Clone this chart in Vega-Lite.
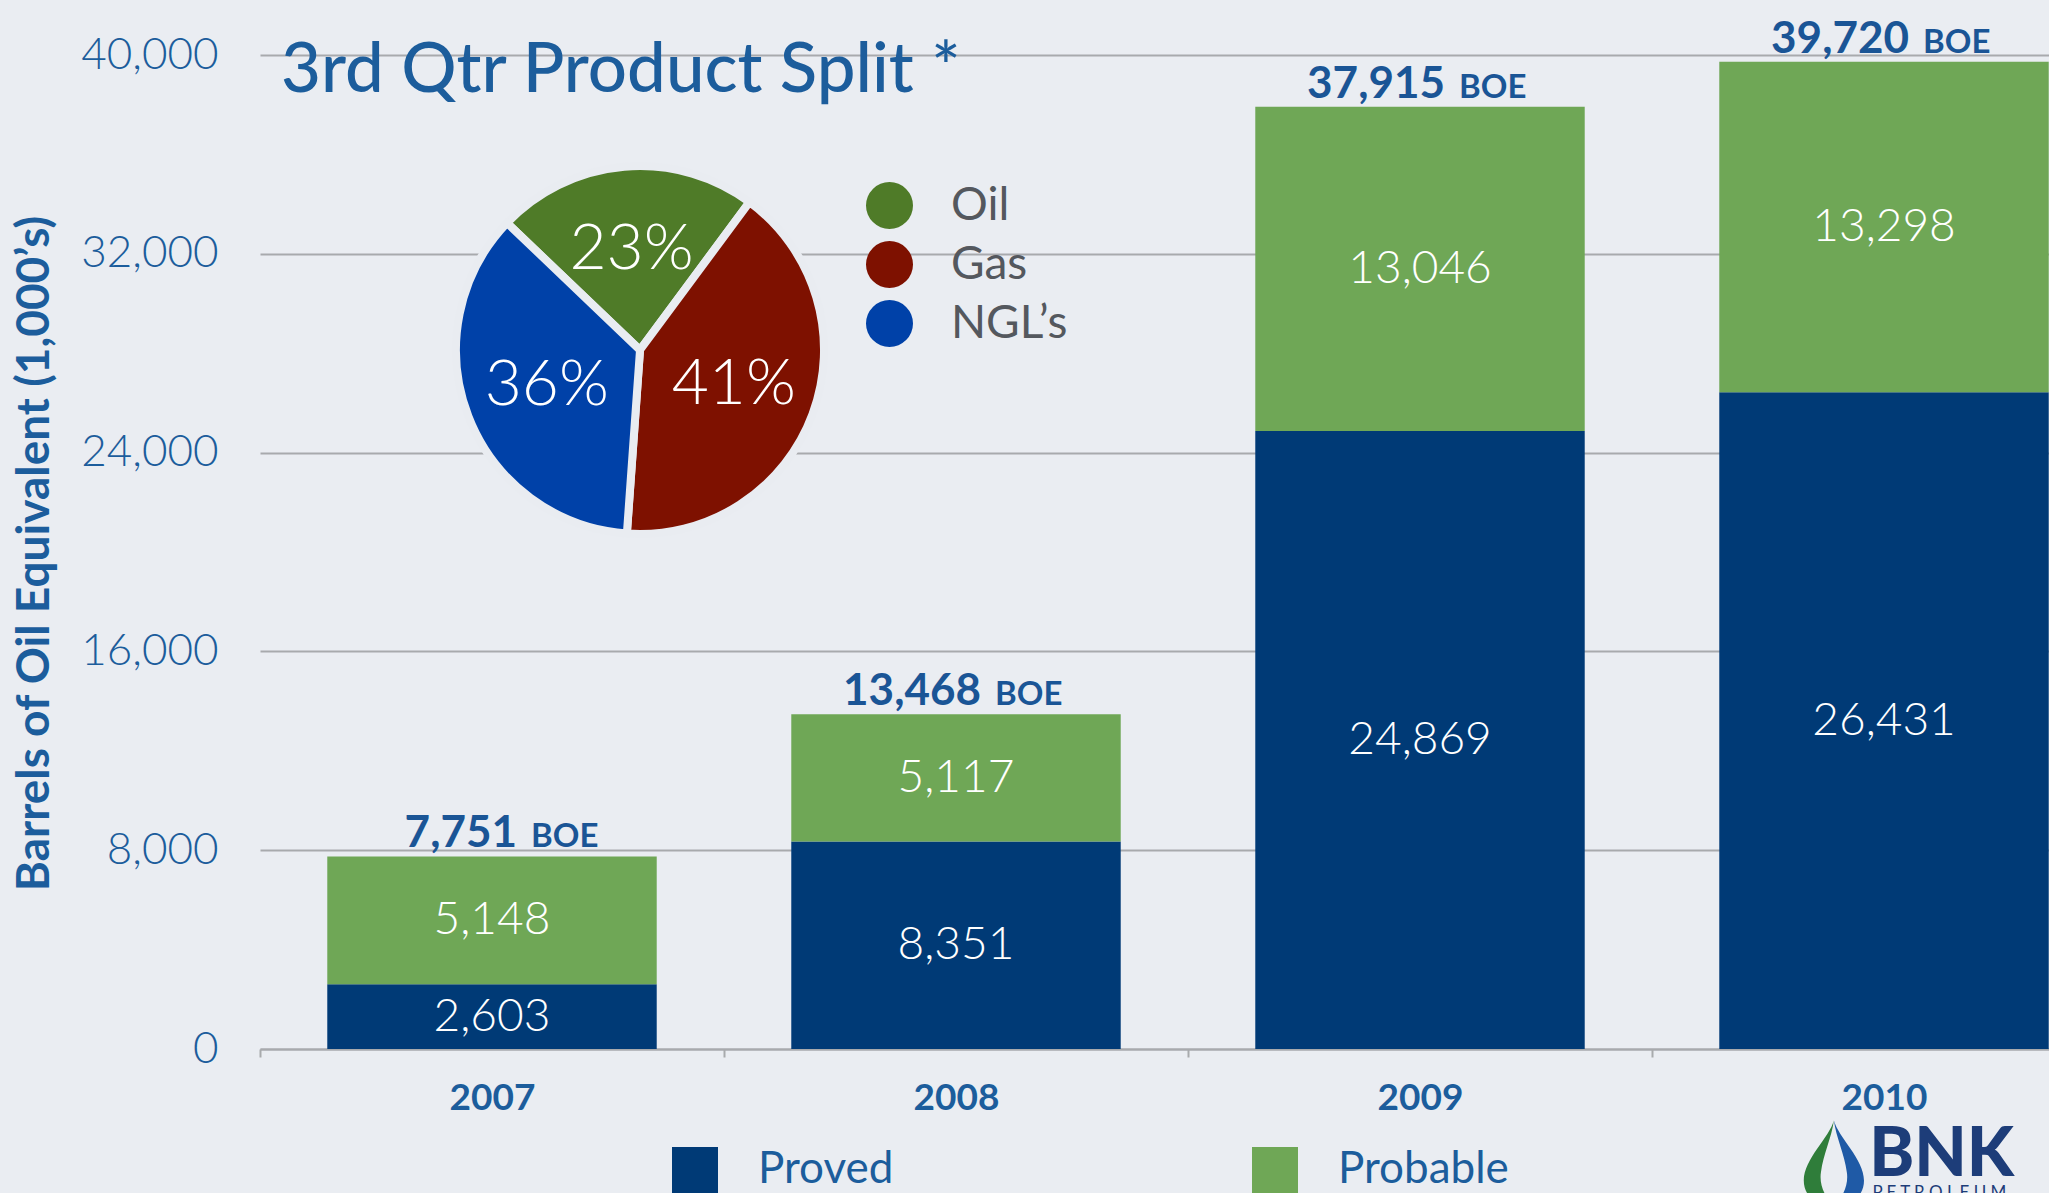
{
  "$schema": "https://vega.github.io/schema/vega-lite/v6.json",
  "width": 1789,
  "height": 994,
  "autosize": "none",
  "padding": {"left": 260, "top": 55, "right": 0, "bottom": 144},
  "background": "#eaedf2",
  "config": {
    "view": {"stroke": null},
    "font": "Lato",
    "text": {"font": "Lato"}
  },
  "title": {
    "text": "3rd Qtr Product Split *",
    "anchor": "start",
    "frame": "group",
    "orient": "top",
    "font": "Lato",
    "fontSize": 69,
    "fontWeight": 500,
    "color": "#1c5d9c",
    "baseline": "alphabetic",
    "offset": -143,
    "dx": 21
  },
  "datasets": {
    "reserves": [
      {"year": "2007", "series": "Proved", "value": 2603},
      {"year": "2007", "series": "Probable", "value": 5148},
      {"year": "2008", "series": "Proved", "value": 8351},
      {"year": "2008", "series": "Probable", "value": 5117},
      {"year": "2009", "series": "Proved", "value": 24869},
      {"year": "2009", "series": "Probable", "value": 13046},
      {"year": "2010", "series": "Proved", "value": 26431},
      {"year": "2010", "series": "Probable", "value": 13298}
    ],
    "totals": [
      {"year": "2007", "total": 7751},
      {"year": "2008", "total": 13468},
      {"year": "2009", "total": 37915},
      {"year": "2010", "total": 39720}
    ],
    "split": [
      {"product": "Oil", "share": 0.23},
      {"product": "Gas", "share": 0.41},
      {"product": "NGL’s", "share": 0.36}
    ],
    "logo": [
      {"brand": "BNK", "sub": "P E T R O L E U M"}
    ]
  },
  "layer": [
    {
      "data": {"name": "reserves"},
      "mark": {"type": "bar", "width": {"band": 0.71}},
      "encoding": {
        "x": {
          "field": "year", "type": "nominal", "title": null,
          "scale": {"range": [0, 1856], "paddingInner": 0, "paddingOuter": 0},
          "axis": {
            "tickBand": "extent",
            "labelAngle": 0,
            "labelFont": "Lato", "labelFontSize": 37, "labelFontWeight": "bold", "labelColor": "#1c5d9c",
            "labelBaseline": "alphabetic", "labelPadding": 52,
            "domainColor": "#a8aaad", "domainWidth": 2,
            "tickColor": "#a8aaad", "tickWidth": 2, "tickSize": 8,
            "grid": false
          }
        },
        "y": {
          "field": "value", "type": "quantitative", "stack": "zero",
          "scale": {"domain": [0, 40000], "nice": false},
          "axis": {
            "values": [0, 8000, 16000, 24000, 32000, 40000],
            "format": ",d",
            "title": "Barrels  of Oil Equivalent (1,000’s)",
            "titleFont": "Lato", "titleFontSize": 46, "titleFontWeight": "bold", "titleColor": "#1c5d9c",
            "titleAngle": -90, "titleAlign": "center", "titleBaseline": "middle",
            "titleX": -226, "titleY": 498,
            "labelFont": "Lato", "labelFontSize": 44, "labelFontWeight": 300, "labelColor": "#1c5d9c",
            "labelPadding": 42,
            "domain": false, "ticks": false,
            "grid": true, "gridColor": "#a8aaad", "gridWidth": 2
          }
        },
        "color": {
          "field": "series", "type": "nominal",
          "scale": {"domain": ["Proved", "Probable"], "range": ["#003a76", "#6fa756"]},
          "legend": {
            "orient": "none", "legendX": 412, "legendY": 1092,
            "direction": "horizontal", "title": null,
            "symbolType": "square", "symbolSize": 2116, "symbolStrokeWidth": 0, "symbolOpacity": 1,
            "labelFont": "Lato", "labelFontSize": 44, "labelColor": "#1c5d9c", "labelLimit": 500,
            "labelOffset": 40, "columnPadding": 358, "padding": 0
          }
        },
        "order": {"field": "series", "sort": "descending"}
      }
    },
    {
      "data": {"name": "reserves"},
      "mark": {"type": "text", "color": "white", "fontSize": 46, "fontWeight": 300, "baseline": "middle"},
      "encoding": {
        "x": {"field": "year", "type": "nominal"},
        "y": {"field": "value", "type": "quantitative", "stack": "zero", "bandPosition": 0.5},
        "order": {"field": "series", "sort": "descending"},
        "detail": {"field": "series"},
        "text": {"field": "value", "format": ",d"}
      }
    },
    {
      "data": {"name": "totals"},
      "mark": {"type": "text", "color": "#1a5596", "fontSize": 44, "fontWeight": "bold", "align": "right", "baseline": "alphabetic", "dx": 25, "dy": -9},
      "encoding": {
        "x": {"field": "year", "type": "nominal"},
        "y": {"field": "total", "type": "quantitative"},
        "text": {"field": "total", "format": ",d"}
      }
    },
    {
      "data": {"name": "totals"},
      "mark": {"type": "text", "color": "#1a5596", "fontSize": 33, "fontWeight": "bold", "align": "left", "baseline": "alphabetic", "dx": 39, "dy": -9},
      "encoding": {
        "x": {"field": "year", "type": "nominal"},
        "y": {"field": "total", "type": "quantitative"},
        "text": {"value": "BOE"}
      }
    },
    {
      "data": {"name": "split"},
      "mark": {"type": "arc", "outerRadius": 184, "stroke": "#e9ecf1", "strokeWidth": 8},
      "encoding": {
        "x": {"datum": "2007", "type": "nominal", "bandPosition": 0.819},
        "y": {"datum": 28129, "type": "quantitative"},
        "theta": {"field": "share", "type": "quantitative", "stack": true, "scale": {"range": [0.637, 6.920]}},
        "order": {"field": "share", "sort": "descending"},
        "color": {
          "field": "product", "type": "nominal",
          "scale": {"domain": ["Oil", "Gas", "NGL’s"], "range": ["#4f7b28", "#7e1100", "#0041a8"]},
          "legend": {
            "orient": "none", "legendX": 606, "legendY": 127,
            "direction": "vertical", "title": null,
            "symbolType": "circle", "symbolSize": 2209, "symbolStrokeWidth": 0, "symbolOpacity": 1,
            "labelFont": "Lato", "labelFontSize": 46, "labelColor": "#54585e",
            "labelOffset": 38, "rowPadding": 12, "padding": 0
          }
        }
      }
    },
    {
      "data": {"name": "split"},
      "mark": {"type": "text", "radius": 100, "color": "white", "fontSize": 64, "fontWeight": 300, "baseline": "middle"},
      "encoding": {
        "x": {"datum": "2007", "type": "nominal", "bandPosition": 0.819},
        "y": {"datum": 28129, "type": "quantitative"},
        "theta": {"field": "share", "type": "quantitative", "stack": true, "scale": {"range": [0.637, 6.920]}},
        "order": {"field": "share", "sort": "descending"},
        "text": {"field": "share", "format": ".0%"}
      }
    },
    {
      "data": {"name": "logo"},
      "mark": {"type": "text", "color": "#1d3d79", "fontSize": 68, "fontWeight": 900, "align": "left", "baseline": "alphabetic"},
      "encoding": {
        "x": {"datum": "2010", "type": "nominal", "bandPosition": 0.468},
        "y": {"datum": -5111, "type": "quantitative"},
        "text": {"field": "brand"}
      }
    },
    {
      "data": {"name": "logo"},
      "mark": {"type": "text", "color": "#1d3d79", "fontSize": 17, "align": "left", "baseline": "alphabetic"},
      "encoding": {
        "x": {"datum": "2010", "type": "nominal", "bandPosition": 0.475},
        "y": {"datum": -5990, "type": "quantitative"},
        "text": {"field": "sub"}
      }
    },
    {
      "data": {"name": "logo"},
      "mark": {"type": "point", "filled": true, "opacity": 1, "size": 7400, "color": "#2f7d3a",
               "shape": "M0,-1 C-0.1,-0.6 -0.7,-0.1 -0.7,0.4 C-0.7,0.8 -0.35,1 0,1 C-0.2,0.8 -0.35,0.5 -0.3,0.2 C-0.25,-0.2 -0.05,-0.6 0,-1 Z"},
      "encoding": {
        "x": {"datum": "2010", "type": "nominal", "bandPosition": 0.392},
        "y": {"datum": -4600, "type": "quantitative"}
      }
    },
    {
      "data": {"name": "logo"},
      "mark": {"type": "point", "filled": true, "opacity": 1, "size": 7400, "color": "#1f5aa6",
               "shape": "M0,-1 C0.1,-0.6 0.7,-0.1 0.7,0.4 C0.7,0.8 0.35,1 0,1 C0.2,0.8 0.35,0.5 0.3,0.2 C0.25,-0.2 0.05,-0.6 0,-1 Z"},
      "encoding": {
        "x": {"datum": "2010", "type": "nominal", "bandPosition": 0.392},
        "y": {"datum": -4600, "type": "quantitative"}
      }
    }
  ],
  "resolve": {"scale": {"color": "independent"}, "legend": {"color": "independent"}}
}
